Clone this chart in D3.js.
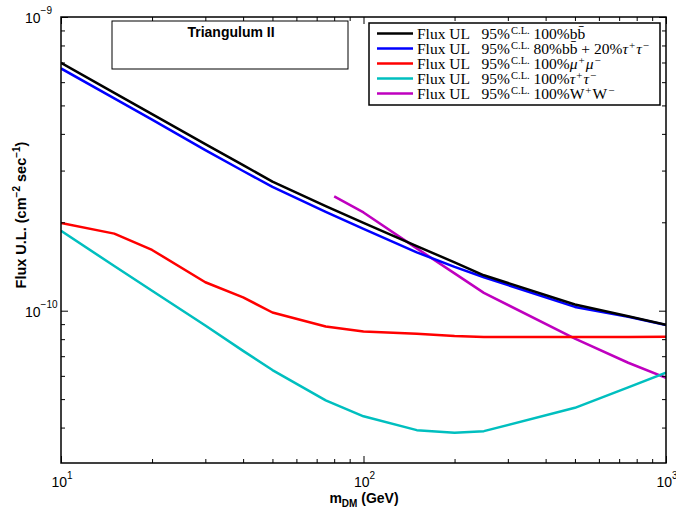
<!DOCTYPE html>
<html>
<head>
<meta charset="utf-8">
<script src="https://cdn.jsdelivr.net/npm/d3@7"></script>
<style>
  body { margin: 0; background: #fff; }
  svg { display: block; }
</style>
</head>
<body>
<script>
// DM masses (GeV)
var masses = [10, 15, 20, 30, 40, 50, 75, 100, 150, 200, 250, 500, 750, 1000];
var wwMasses = [80, 100, 150, 200, 250, 500, 750, 1000];

// flux upper limits (cm^-2 s^-1)
var fluxBB = [6.98e-10, 5.52e-10, 4.67e-10, 3.69e-10, 3.13e-10, 2.75e-10, 2.27e-10, 1.99e-10, 1.66e-10, 1.46e-10, 1.32e-10, 1.05e-10, 9.57e-11, 8.95e-11];
var fluxMix = [6.68e-10, 5.28e-10, 4.47e-10, 3.52e-10, 2.99e-10, 2.64e-10, 2.17e-10, 1.90e-10, 1.58e-10, 1.41e-10, 1.30e-10, 1.03e-10, 9.53e-11, 8.93e-11];
var fluxMuMu = [1.99e-10, 1.83e-10, 1.61e-10, 1.25e-10, 1.11e-10, 9.86e-11, 8.83e-11, 8.49e-11, 8.34e-11, 8.20e-11, 8.14e-11, 8.14e-11, 8.14e-11, 8.16e-11];
var fluxTauTau = [1.87e-10, 1.42e-10, 1.17e-10, 8.9e-11, 7.3e-11, 6.28e-11, 4.95e-11, 4.37e-11, 3.92e-11, 3.84e-11, 3.89e-11, 4.67e-11, 5.48e-11, 6.15e-11];
var fluxWW = [2.45e-10, 2.16e-10, 1.63e-10, 1.34e-10, 1.15e-10, 8.03e-11, 6.65e-11, 5.91e-11];

var xMajor = [10, 100, 1000];
var xMinor = [20, 30, 40, 50, 60, 70, 80, 90, 200, 300, 400, 500, 600, 700, 800, 900];
var yMajor = [1e-10, 1e-9];
var yMinor = [4e-11, 5e-11, 6e-11, 7e-11, 8e-11, 9e-11, 2e-10, 3e-10, 4e-10, 5e-10, 6e-10, 7e-10, 8e-10, 9e-10];
var xTickLabels = ["1", "2", "3"];
var yTickLabels = ["\u221210", "\u22129"];

var W = 676, H = 508;
var plotLeft = 61, plotRight = 666, plotTop = 17, plotBottom = 463;

var svg = d3.select("body").append("svg")
  .attr("width", W)
  .attr("height", H)
  .style("font-family", "'Liberation Sans', Arial, sans-serif");

var x = d3.scaleLog().domain([10, 1000]).range([plotLeft, plotRight]);
var y = d3.scaleLog().domain([3.03e-11, 1e-9]).range([plotBottom, plotTop]);

var series = [
  {xs: masses, ys: fluxBB, colour: "#000000"},
  {xs: masses, ys: fluxMix, colour: "#0000ff"},
  {xs: masses, ys: fluxMuMu, colour: "#ff0000"},
  {xs: masses, ys: fluxTauTau, colour: "#00bfbf"},
  {xs: wwMasses, ys: fluxWW, colour: "#bf00bf"}
];

svg.append("clipPath").attr("id", "plotclip")
  .append("rect")
    .attr("x", plotLeft).attr("y", plotTop)
    .attr("width", plotRight - plotLeft).attr("height", plotBottom - plotTop);

var line = d3.line()
  .x(function(d) { return x(d[0]); })
  .y(function(d) { return y(d[1]); });

// draw in reverse so black ends on top
svg.append("g").attr("clip-path", "url(#plotclip)")
  .selectAll("path")
  .data(series.slice().reverse())
  .enter()
    .append("path")
      .attr("d", function(d) { return line(d3.zip(d.xs, d.ys)); })
      .attr("fill", "none")
      .attr("stroke", function(d) { return d.colour; })
      .attr("stroke-width", 2.5)
      .attr("stroke-linejoin", "round");

// axes, ticks pointing inwards on all four sides
function addAxis(axis, transform, values, size) {
  svg.append("g")
    .attr("transform", transform)
    .call(axis.tickValues(values).tickSize(size).tickFormat(""))
    .call(function(g) { g.select(".domain").remove(); })
    .selectAll("line").attr("stroke", "#000").attr("stroke-width", 1);
}

addAxis(d3.axisBottom(x), "translate(0," + plotBottom + ")", xMajor, -7);
addAxis(d3.axisBottom(x), "translate(0," + plotBottom + ")", xMinor, -4);
addAxis(d3.axisTop(x), "translate(0," + plotTop + ")", xMajor, -7);
addAxis(d3.axisTop(x), "translate(0," + plotTop + ")", xMinor, -4);
addAxis(d3.axisLeft(y), "translate(" + plotLeft + ",0)", yMajor, -7);
addAxis(d3.axisLeft(y), "translate(" + plotLeft + ",0)", yMinor, -4);
addAxis(d3.axisRight(y), "translate(" + plotRight + ",0)", yMajor, -7);
addAxis(d3.axisRight(y), "translate(" + plotRight + ",0)", yMinor, -4);

svg.append("rect")
  .attr("x", plotLeft).attr("y", plotTop)
  .attr("width", plotRight - plotLeft).attr("height", plotBottom - plotTop)
  .attr("fill", "none")
  .attr("stroke", "#000")
  .attr("stroke-width", 1.5);

// tick labels with exponents
var xl = svg.append("g").selectAll("text")
  .data(xMajor)
  .enter()
    .append("text")
      .attr("x", function(d) { return x(d) + 1; })
      .attr("y", plotBottom + 24)
      .attr("text-anchor", "middle")
      .attr("font-size", 14);
xl.append("tspan").text("10");
xl.append("tspan")
  .attr("font-size", 10)
  .attr("dy", -8)
  .text(function(d, i) { return xTickLabels[i]; });

var yl = svg.append("g").selectAll("text")
  .data(yMajor)
  .enter()
    .append("text")
      .attr("x", 25)
      .attr("y", function(d) { return y(d) + 6; })
      .attr("font-size", 14);
yl.append("tspan").text("10");
yl.append("tspan")
  .attr("font-size", 10)
  .attr("dy", -9)
  .text(function(d, i) { return yTickLabels[i]; });

// axis titles
var xt = svg.append("text")
  .attr("x", 364)
  .attr("y", 503)
  .attr("text-anchor", "middle")
  .attr("font-size", 14)
  .attr("font-weight", "bold");
xt.append("tspan").text("m");
xt.append("tspan").attr("font-size", 10).attr("dy", 4).text("DM");
xt.append("tspan").attr("dy", -4).text(" (GeV)");

var yt = svg.append("text")
  .attr("transform", "translate(26,215) rotate(-90)")
  .attr("text-anchor", "middle")
  .attr("font-size", 14.5)
  .attr("font-weight", "bold");
yt.append("tspan").text("Flux U.L. (cm");
yt.append("tspan").attr("font-size", 10).attr("dy", -6).text("\u22122");
yt.append("tspan").attr("dy", 6).text(" sec");
yt.append("tspan").attr("font-size", 10).attr("dy", -6).text("\u22121");
yt.append("tspan").attr("dy", 6).text(")");

// target name box
svg.append("rect")
  .attr("x", 112).attr("y", 21)
  .attr("width", 236).attr("height", 48)
  .attr("fill", "#fff")
  .attr("stroke", "#000")
  .attr("stroke-width", 1);
svg.append("text")
  .attr("x", 231)
  .attr("y", 37)
  .attr("text-anchor", "middle")
  .attr("font-size", 14)
  .attr("font-weight", "bold")
  .text("Triangulum II");

// legend
var legendLabels = [
  [["100%b", ""], ["b\u0304", ""]],
  [["80%b", ""], ["b\u0304", ""], [" + 20%", ""], ["\u03c4", "i"], ["+", "s"], ["\u03c4", "i"], ["\u2212", "s"]],
  [["100%", ""], ["\u03bc", "i"], ["+", "s"], ["\u03bc", "i"], ["\u2212", "s"]],
  [["100%", ""], ["\u03c4", "i"], ["+", "s"], ["\u03c4", "i"], ["\u2212", "s"]],
  [["100%W", ""], ["+", "s"], ["W", ""], ["\u2212", "s"]]
];

var legend = svg.append("g");
legend.append("rect")
  .attr("x", 369).attr("y", 23)
  .attr("width", 291).attr("height", 82)
  .attr("fill", "#fff")
  .attr("stroke", "#000")
  .attr("stroke-width", 1.5);

var rows = legend.selectAll("g.row")
  .data(series)
  .enter()
    .append("g")
      .attr("class", "row")
      .attr("transform", function(d, i) { return "translate(0," + (33.5 + i * 15) + ")"; });

rows.append("line")
  .attr("x1", 377).attr("x2", 413)
  .attr("stroke", function(d) { return d.colour; })
  .attr("stroke-width", 2.5);

var lt = rows.append("text")
  .attr("x", 417)
  .attr("y", 5)
  .attr("font-family", "'Liberation Serif', 'Times New Roman', serif")
  .attr("font-size", 15.5);

lt.each(function(d, i) {
  var t = d3.select(this);
  t.append("tspan").text("Flux UL\u2002 95%");
  t.append("tspan").attr("font-size", 10.5).attr("dy", -5).attr("dx", 1).text("C.L.");
  t.append("tspan").attr("dy", 5).text(" ");
  var shifted = false;
  legendLabels[i].forEach(function(p) {
    var s = t.append("tspan").text(p[0]);
    if (p[1] === "i") s.attr("font-style", "italic");
    if (p[1] === "s") {
      s.attr("font-size", 11).attr("dx", 1);
      if (!shifted) { s.attr("dy", -5); shifted = true; }
    } else if (shifted) {
      s.attr("dy", 5).attr("dx", 1);
      shifted = false;
    }
  });
});
</script>
</body>
</html>
